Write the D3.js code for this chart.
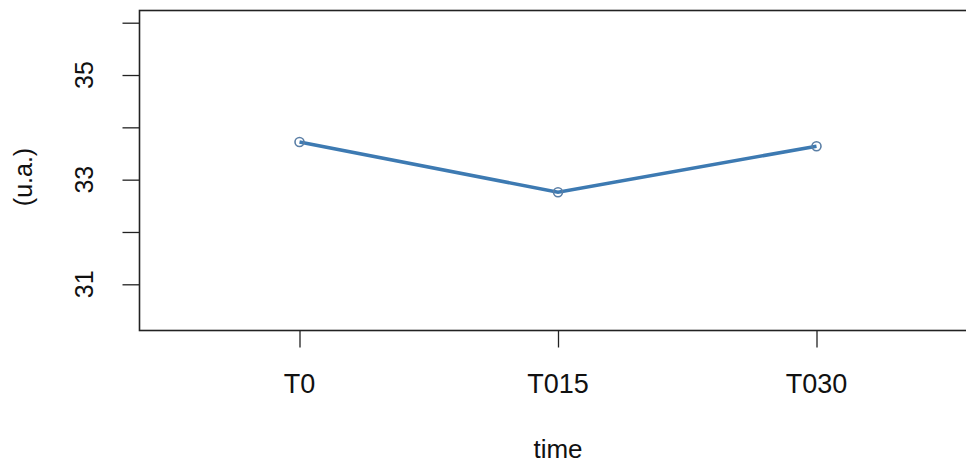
<!DOCTYPE html>
<html>
<head>
<meta charset="utf-8">
<script src="https://cdn.jsdelivr.net/npm/d3@7"></script>
<style>
  body { margin: 0; background: #fff; }
  text { font-family: "Liberation Sans", Arial, sans-serif; fill: #111; }
</style>
</head>
<body>
<div id="chart"></div>
<script>
// values
var timePoints = ['T0', 'T015', 'T030'];
var meanValues = [33.72, 32.76, 33.64];
var yTicks = [31, 32, 33, 34, 35, 36];
var yLabelled = [31, 33, 35];

var W = 966, H = 463;
var box = {left: 139.5, top: 10.5, right: 977, bottom: 330.5};

var svg = d3.select('#chart').append('svg')
	.attr('width', W).attr('height', H);

// x: category index, 1..3, r style padding
var x = d3.scaleLinear().domain([1, 3]).range([299.5, 816.5]);
var y = d3.scaleLinear().domain([31, 36]).range([284.3, 22.7]);

// y axis
var yAxis = svg.append('g').attr('transform', 'translate(' + box.left + ',0)')
	.call(d3.axisLeft(y).tickValues(yTicks).tickSize(17).tickFormat(''));
yAxis.select('.domain').remove();
yAxis.selectAll('line').attr('stroke', '#222').attr('stroke-width', 1.3);

svg.selectAll('.ylab').data(yLabelled).join('text')
	.attr('class', 'ylab')
	.attr('transform', function(d){ return 'translate(93,' + y(d) + ') rotate(-90)'; })
	.attr('text-anchor', 'middle')
	.style('font-size', '25px')
	.text(function(d){ return d; });

// x axis
var xAxis = svg.append('g').attr('transform', 'translate(0,' + box.bottom + ')')
	.call(d3.axisBottom(x).tickValues([1, 2, 3]).tickSize(17).tickFormat(''));
xAxis.select('.domain').remove();
xAxis.selectAll('line').attr('stroke', '#222').attr('stroke-width', 1.3);

svg.selectAll('.xlab').data(timePoints).join('text')
	.attr('class', 'xlab')
	.attr('x', function(d, i){ return x(i + 1); })
	.attr('y', 393)
	.attr('text-anchor', 'middle')
	.style('font-size', '27px')
	.text(function(d){ return d; });

// axis titles
svg.append('text').attr('x', x(2)).attr('y', 458)
	.attr('text-anchor', 'middle').style('font-size', '26px').text('time');
svg.append('text').attr('transform', 'translate(32,177) rotate(-90)')
	.attr('text-anchor', 'middle').style('font-size', '25px').text('(u.a.)');

// plot box
svg.append('rect')
	.attr('x', box.left).attr('y', box.top)
	.attr('width', box.right - box.left).attr('height', box.bottom - box.top)
	.attr('fill', 'none').attr('stroke', '#222').attr('stroke-width', 1.6);

// series
var pts = meanValues.map(function(v, i){ return [i + 1, v]; });
var line = d3.line().x(function(d){ return x(d[0]); }).y(function(d){ return y(d[1]); });

svg.append('path').datum(pts)
	.attr('d', line)
	.attr('fill', 'none')
	.attr('stroke', '#3d7ab2')
	.attr('stroke-width', 3.5);

svg.selectAll('.pt').data(pts).join('circle')
	.attr('class', 'pt')
	.attr('cx', function(d){ return x(d[0]); })
	.attr('cy', function(d){ return y(d[1]); })
	.attr('r', 4.5)
	.attr('fill', 'none')
	.attr('stroke', '#5b7fa6')
	.attr('stroke-width', 1.6);
</script>
</body>
</html>
